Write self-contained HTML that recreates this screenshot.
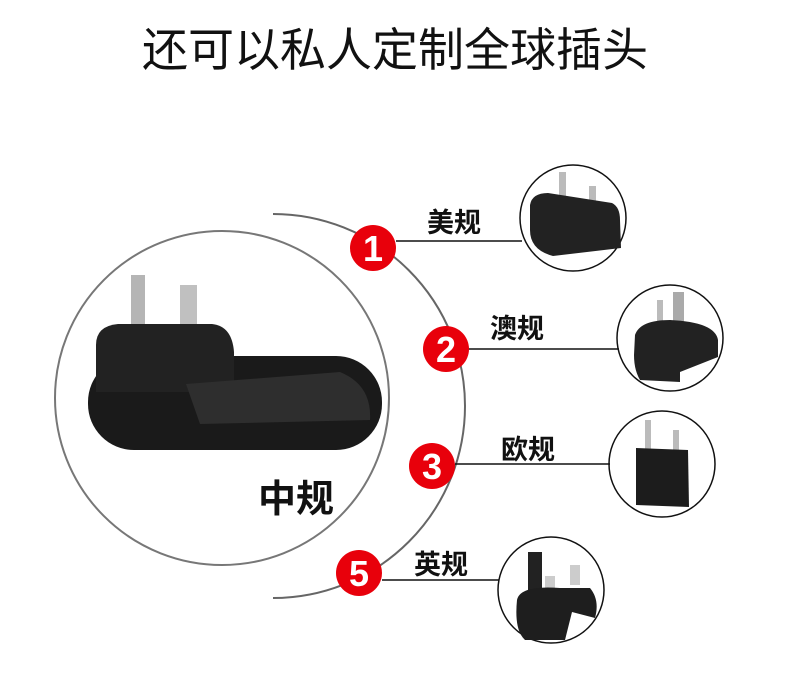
<!DOCTYPE html>
<html><head><meta charset="utf-8"><style>
body{margin:0;background:#fff;width:790px;height:693px;overflow:hidden;font-family:"Liberation Sans","Noto Sans CJK SC",sans-serif}
</style></head><body>
<svg width="790" height="693" xmlns="http://www.w3.org/2000/svg">
<text x="395" y="66" text-anchor="middle" font-size="46" fill="#111" font-family="Liberation Sans, Noto Sans CJK SC, sans-serif">还可以私人定制全球插头</text>
<circle cx="222" cy="398" r="167" fill="none" stroke="#777" stroke-width="2"/>
<path d="M273 214 A192 192 0 0 1 273 598" fill="none" stroke="#666" stroke-width="2"/>
<!-- main plug -->
<rect x="131" y="275" width="14" height="62" fill="#b5b5b5"/>
<rect x="180" y="285" width="17" height="58" fill="#c0c0c0"/>
<rect x="88" y="356" width="294" height="94" rx="46" fill="#1a1a1a"/>
<path d="M96 345 Q96 326 118 324 L212 324 Q232 326 234 352 L234 392 L96 392 Z" fill="#222"/>
<path d="M186 384 L340 372 Q372 385 370 420 L200 424 Z" fill="#2e2e2e"/>
<text x="296" y="512" text-anchor="middle" font-size="38" font-weight="bold" fill="#111" font-family="Liberation Sans, Noto Sans CJK SC, sans-serif">中规</text>
<g stroke="#111" stroke-width="1.5">
<line x1="396" y1="241" x2="522" y2="241"/>
<line x1="468" y1="349" x2="619" y2="349"/>
<line x1="455" y1="464" x2="610" y2="464"/>
<line x1="382" y1="580" x2="499" y2="580"/>
</g>
<g font-family="Liberation Sans, sans-serif" font-weight="bold" font-size="36" fill="#fff" text-anchor="middle">
<circle cx="373" cy="248" r="23" fill="#e8000b"/><text x="373" y="261">1</text>
<circle cx="446" cy="349" r="23" fill="#e8000b"/><text x="446" y="362">2</text>
<circle cx="432" cy="466" r="23" fill="#e8000b"/><text x="432" y="479">3</text>
<circle cx="359" cy="573" r="23" fill="#e8000b"/><text x="359" y="586">5</text>
</g>
<g font-size="27" font-weight="bold" fill="#111" font-family="Liberation Sans, Noto Sans CJK SC, sans-serif">
<text x="427" y="232">美规</text>
<text x="490" y="338">澳规</text>
<text x="501" y="459">欧规</text>
<text x="414" y="574">英规</text>
</g>
<g fill="none" stroke="#111" stroke-width="1.5">
<circle cx="573" cy="218" r="53"/>
<circle cx="670" cy="338" r="53"/>
<circle cx="662" cy="464" r="53"/>
<circle cx="551" cy="590" r="53"/>
</g>
<!-- US -->
<rect x="559" y="172" width="7" height="52" fill="#bbb"/><rect x="589" y="186" width="7" height="46" fill="#bbb"/>
<path d="M530 205 Q532 193 548 193 L612 203 Q620 207 620 220 L621 248 L553 256 Q530 250 530 230 Z" fill="#222"/>
<!-- AU -->
<rect x="657" y="300" width="6" height="30" fill="#bbb"/><rect x="673" y="292" width="11" height="35" fill="#aaa"/>
<path d="M635 335 Q640 320 670 320 Q715 322 718 340 L718 357 L680 372 L680 382 L640 380 Q634 370 634 355 Z" fill="#222"/>
<!-- EU -->
<rect x="645" y="420" width="6" height="35" fill="#bbb"/><rect x="673" y="430" width="6" height="32" fill="#bbb"/>
<path d="M636 448 L688 450 L689 507 L636 505 Z" fill="#1c1c1c"/>
<!-- UK -->
<rect x="528" y="552" width="14" height="40" fill="#222"/>
<rect x="545" y="576" width="10" height="22" fill="#ccc"/><rect x="570" y="565" width="10" height="20" fill="#ccc"/>
<path d="M517 600 Q520 585 560 588 L590 588 Q600 600 595 618 L572 612 L565 640 L525 640 Q514 630 517 600 Z" fill="#1e1e1e"/>
</svg>
</body></html>
